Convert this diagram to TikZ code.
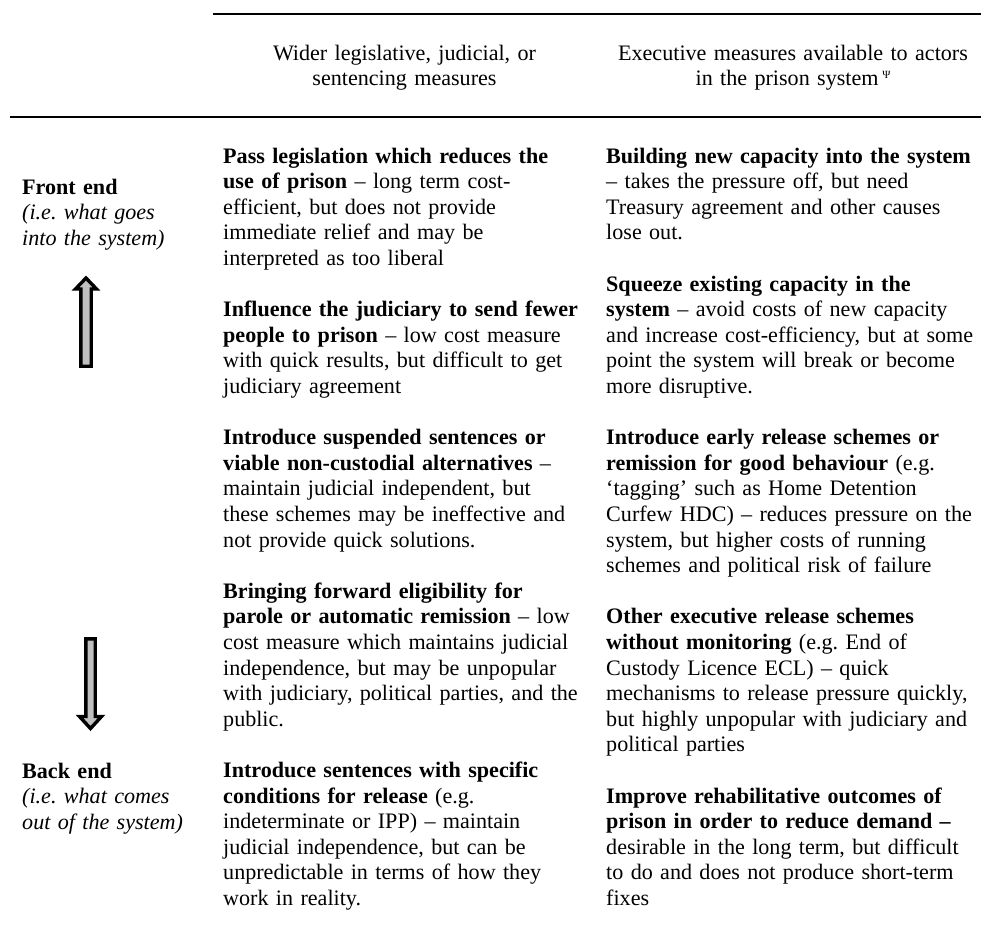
\documentclass[tikz,border=0pt]{standalone}
\usepackage{fontspec}
\setmainfont{Liberation Serif}
\begin{document}
\frenchspacing
\begin{tikzpicture}[x=1pt,y=-1pt,
  txt/.style={anchor=base west, inner sep=0pt, text width=400pt, align=left, font=\fontsize{22.1}{25.6}\selectfont\frenchspacing},
  hdr/.style={anchor=base, inner sep=0pt, text width=380pt, align=center, font=\fontsize{22.1}{25.6}\selectfont},
  tablerule/.style={line width=1.7pt, black},
  bigarrow/.style={draw=black, fill=black!25, line width=3.4pt, line join=miter}]
\useasboundingbox (0,0) rectangle (981,929);

% header rules
\coordinate (ta) at (213,14);
\coordinate (tb) at (981,14);
\coordinate (ma) at (10,117);
\coordinate (mb) at (981,117);
\draw[tablerule] (ta) -- (tb);
\draw[tablerule] (ma) -- (mb);

% headers
\node[hdr] (h2) at (404.5,60) {Wider legislative, judicial, or\\sentencing measures};
\node[hdr] (h3) at (793,60) {Executive measures available to actors\\in the prison system\,\raisebox{7pt}{\fontsize{11}{11}\selectfont Ψ}};

% left column
\node[txt] (front) at (22,194) {\textbf{Front end}\\\textit{(i.e. what goes\\into the system)}};
\node[txt] (back) at (22,778) {\textbf{Back end}\\\textit{(i.e. what comes\\out of the system)}};

% arrows
\draw[bigarrow] (80.8,366.2) -- (91.2,366.2) -- (91.2,289) -- (96.5,289) -- (86,278) -- (75.5,289) -- (80.8,289) -- cycle;
\draw[bigarrow] (85.8,638.8) -- (95.2,638.8) -- (95.2,716.5) -- (101.5,716.5) -- (90.5,728.5) -- (79.5,716.5) -- (85.8,716.5) -- cycle;

% second column
\node[txt] (b21) at (223,163) {\textbf{Pass legislation which reduces the\\use of prison} – long term cost-\\efficient, but does not provide\\immediate relief and may be\\interpreted as too liberal};
\node[txt] (b22) at (223,316.6) {\textbf{Influence the judiciary to send fewer\\people to prison} – low cost measure\\with quick results, but difficult to get\\judiciary agreement};
\node[txt] (b23) at (223,444.6) {\textbf{Introduce suspended sentences or\\viable non-custodial alternatives} –\\maintain judicial independent, but\\these schemes may be ineffective and\\not provide quick solutions.};
\node[txt] (b24) at (223,598.2) {\textbf{Bringing forward eligibility for\\parole or automatic remission} – low\\cost measure which maintains judicial\\independence, but may be unpopular\\with judiciary, political parties, and the\\public.};
\node[txt] (b25) at (223,777.4) {\textbf{Introduce sentences with specific\\conditions for release} (e.g.\\indeterminate or IPP) – maintain\\judicial independence, but can be\\unpredictable in terms of how they\\work in reality.};

% third column
\node[txt] (b31) at (606,163) {\textbf{Building new capacity into the system}\\– takes the pressure off, but need\\Treasury agreement and other causes\\lose out.};
\node[txt] (b32) at (606,291) {\textbf{Squeeze existing capacity in the\\system} – avoid costs of new capacity\\and increase cost-efficiency, but at some\\point the system will break or become\\more disruptive.};
\node[txt] (b33) at (606,444.6) {\textbf{Introduce early release schemes or\\remission for good behaviour} (e.g.\\‘tagging’ such as Home Detention\\Curfew HDC) – reduces pressure on the\\system, but higher costs of running\\schemes and political risk of failure};
\node[txt] (b34) at (606,623.8) {\textbf{Other executive release schemes\\without monitoring} (e.g. End of\\Custody Licence ECL) – quick\\mechanisms to release pressure quickly,\\but highly unpopular with judiciary and\\political parties};
\node[txt] (b35) at (606,803) {\textbf{Improve rehabilitative outcomes of\\prison in order to reduce demand –}\\desirable in the long term, but difficult\\to do and does not produce short-term\\fixes};
\end{tikzpicture}
\end{document}
